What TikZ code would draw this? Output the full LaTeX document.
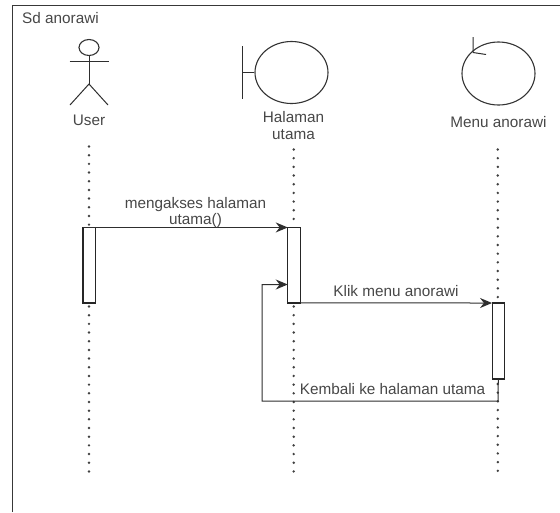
\documentclass[tikz,border=0pt]{standalone}
\usepackage{fontspec}
\setmainfont{Liberation Sans}
\usetikzlibrary{arrows.meta,shapes.geometric}
\tikzset{
  ln/.style={draw=black!82,line width=1pt},
  txt/.style={text=black!72,font=\fontsize{15.3}{16.5}\selectfont,inner sep=0pt,align=center},
  act/.style={draw=black!85,line width=1.1pt,fill=white,minimum width=12.5pt,inner sep=0pt,outer sep=0pt},
  life/.style={draw=black!75,line width=2.7pt,line cap=round,dash pattern=on 0pt off 8.68pt},
  msg/.style={ln,-{Stealth[length=12pt,width=10pt]}},
  uc/.style={ellipse,draw=black!80,line width=1.1pt,inner sep=0pt}
}
\begin{document}
\begin{tikzpicture}[x=1pt,y=-1pt]
\useasboundingbox (0,0) rectangle (560,512);
% frame
\coordinate (fbl) at (12.5,512);
\coordinate (ftl) at (12.5,5.5);
\coordinate (ftr) at (560,5.5);
\draw[draw=black!78,line width=1.1pt] (fbl) -- (ftl) -- (ftr);
\node[txt,anchor=west] (frame) at (22,18.5) {Sd anorawi};
% actor
\node[uc,minimum width=20pt,minimum height=16pt] (head) at (89,47.5) {};
\coordinate (armL) at (69.5,61.5);
\coordinate (armR) at (108.5,61.5);
\coordinate (hip) at (89,84);
\coordinate (legL) at (70,105);
\coordinate (legR) at (108,105);
\draw[ln] (armL) -- (armR);
\draw[ln] (head.south) -- (hip);
\draw[ln] (legL) -- (hip) -- (legR);
\node[txt] (user) at (89,120) {User};
% boundary
\node[uc,minimum width=73pt,minimum height=62pt] (bnd) at (291.5,72.5) {};
\coordinate (barT) at (242.5,46);
\coordinate (barB) at (242.5,99);
\coordinate (barM) at (242.5,72.5);
\draw[ln] (barT) -- (barB);
\draw[ln] (barM) -- (bnd.west);
\node[txt] (hal) at (293.5,125.5) {Halaman\\utama};
% control
\node[uc,minimum width=73pt,minimum height=63pt] (ctl) at (498.5,73.5) {};
\coordinate (ca1) at (473,37);
\coordinate (ca2) at (473,52.5);
\coordinate (ca3) at (486,54.5);
\draw[ln] (ca1) -- (ca2) -- (ca3);
\node[txt] (menu) at (498.5,122) {Menu anorawi};
% lifelines
\coordinate (u1) at (89,146.5);
\coordinate (u2) at (89,226);
\coordinate (u3) at (89,306.5);
\coordinate (u4) at (89,472);
\coordinate (h1) at (293.7,149.5);
\coordinate (h2) at (293.7,226);
\coordinate (h3) at (293.7,306.5);
\coordinate (h4) at (293.7,472);
\coordinate (m1) at (497.8,149.5);
\coordinate (m2) at (497.8,299);
\coordinate (m3) at (497.8,384);
\coordinate (m4) at (497.8,472);
\draw[life] (u1) -- (u2);
\draw[life] (u3) -- (u4);
\draw[life] (h1) -- (h2);
\draw[life] (h3) -- (h4);
\draw[life] (m1) -- (m2);
\draw[life] (m3) -- (m4);
% activations
\node[act,minimum height=75.5pt] (a1) at (89.2,265.2) {};
\node[act,minimum height=75.5pt] (a2) at (294,265.2) {};
\node[act,minimum height=76pt] (a3) at (498.3,341) {};
% messages
\draw[msg] (a1.north west) -- (a2.north west);
\node[txt] (m1t) at (195.5,212.5) {mengakses halaman\\utama()};
\draw[msg] (a2.south east) -- (a3.north west);
\node[txt] (m2t) at (396,291.5) {Klik menu anorawi};
\coordinate (r1) at (498,401);
\coordinate (r2) at (262,401);
\coordinate (r3) at (262,284.5);
\coordinate (r4) at (a2.west |- r3);
\draw[msg] (a3.south) -- (r1) -- (r2) -- (r3) -- (r4);
\node[txt] (m3t) at (392.5,389) {Kembali ke halaman utama};
\end{tikzpicture}
\end{document}
